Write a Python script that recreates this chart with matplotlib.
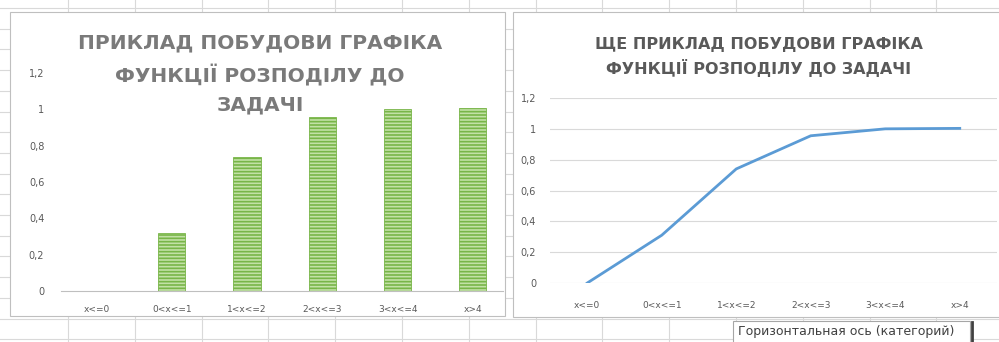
import numpy as np
import matplotlib
matplotlib.use("Agg")
from matplotlib import pyplot as plt
from matplotlib.patches import Rectangle

# data
categories = ["x<=0", "0<x<=1", "1<x<=2", "2<x<=3", "3<x<=4", "x>4"]
bar_values = [0.0, 0.32, 0.74, 0.96, 1.0, 1.005]
line_values = [0.0, 0.31, 0.74, 0.955, 1.0, 1.003]
yticks = [0, 0.2, 0.4, 0.6, 0.8, 1.0, 1.2]
ytick_labels = ["0", "0,2", "0,4", "0,6", "0,8", "1", "1,2"]
title_left = "ПРИКЛАД ПОБУДОВИ ГРАФІКА\nФУНКЦІЇ РОЗПОДІЛУ ДО\nЗАДАЧІ"
title_right = "ЩЕ ПРИКЛАД ПОБУДОВИ ГРАФІКА\nФУНКЦІЇ РОЗПОДІЛУ ДО ЗАДАЧІ"
tooltip = "Горизонтальная ось (категорий)"

W, H = 999, 342
plt.rcParams['font.family'] = ['DejaVu Sans']
plt.rcParams['hatch.color'] = "#78b548"
plt.rcParams['hatch.linewidth'] = 1.2
fig = plt.figure(figsize=(W / 100, H / 100), dpi=100)

def px_axes(x0, y_top, x1, y_bot):
    # pixel box -> figure fraction axes
    return fig.add_axes([x0 / W, (H - y_bot) / H, (x1 - x0) / W, (y_bot - y_top) / H])

# spreadsheet background
bg = fig.add_axes([0, 0, 1, 1])
bg.set_xlim(0, W)
bg.set_ylim(H, 0)
bg.axis("off")
for xx in np.arange(68, W, 66.8):
    bg.axvline(xx, color="#d9d9d9", lw=0.8, zorder=0)
for yy in np.arange(8, H, 20.7):
    bg.axhline(yy, color="#d9d9d9", lw=0.8, zorder=0)

# chart areas
bg.add_patch(Rectangle((10, 12), 495, 304, facecolor="white", edgecolor="#bfbfbf", lw=0.8, zorder=1))
bg.add_patch(Rectangle((513, 12), 490, 305, facecolor="white", edgecolor="#bfbfbf", lw=0.8, zorder=1))

# tooltip
bg.add_patch(Rectangle((733, 321), 237, 24, facecolor="white", edgecolor="#a6a6a6", lw=0.8, zorder=3))
bg.text(738, 332, tooltip, fontsize=9, color="#404040", va="center", ha="left", zorder=4)
bg.plot([972, 972], [322, 342], color="#404040", lw=2, zorder=4)

x = np.arange(len(categories))

# left: bar chart
ax1 = px_axes(61, 73, 503, 291)
ax1.bar(x, bar_values, width=0.36, color="#c2e1a6", edgecolor="#78b548",
        hatch="-----", linewidth=0.6)
ax1.set_xlim(-0.47, 5.4)
ax1.set_ylim(0, 1.2)
ax1.set_yticks(yticks)
ax1.set_yticklabels(ytick_labels)
ax1.set_xticks(x)
ax1.set_xticklabels(categories)
for s in ["top", "right", "left"]:
    ax1.spines[s].set_visible(False)
ax1.spines["bottom"].set_color("#bfbfbf")
ax1.tick_params(axis="y", length=0, pad=12, labelsize=7, labelcolor="#595959")
ax1.tick_params(axis="x", length=0, pad=10, labelsize=6.5, labelcolor="#595959")
ax1.patch.set_alpha(0)
bg.text(260, 74, title_left, fontsize=14.5, fontweight="bold", color="#7a7a7a",
        ha="center", va="center", linespacing=1.65, zorder=2)

# right: line chart
ax2 = px_axes(550, 98, 997, 283)
ax2.plot(x, line_values, color="#5b9bd5", lw=2)
ax2.set_xlim(-0.5, 5.5)
ax2.set_ylim(0, 1.2)
ax2.set_yticks(yticks)
ax2.set_yticklabels(ytick_labels)
ax2.set_xticks(x)
ax2.set_xticklabels(categories)
ax2.grid(axis="y", color="#d9d9d9", lw=0.8)
ax2.set_axisbelow(True)
for s in ["top", "right", "left", "bottom"]:
    ax2.spines[s].set_visible(False)
ax2.tick_params(axis="y", length=0, pad=10, labelsize=7, labelcolor="#595959")
ax2.tick_params(axis="x", length=0, pad=13, labelsize=6.5, labelcolor="#595959")
ax2.patch.set_alpha(0)
bg.text(759, 57, title_right, fontsize=11.5, fontweight="bold", color="#595959",
        ha="center", va="center", linespacing=1.5, zorder=2)

fig.savefig("out.png", dpi=100)
